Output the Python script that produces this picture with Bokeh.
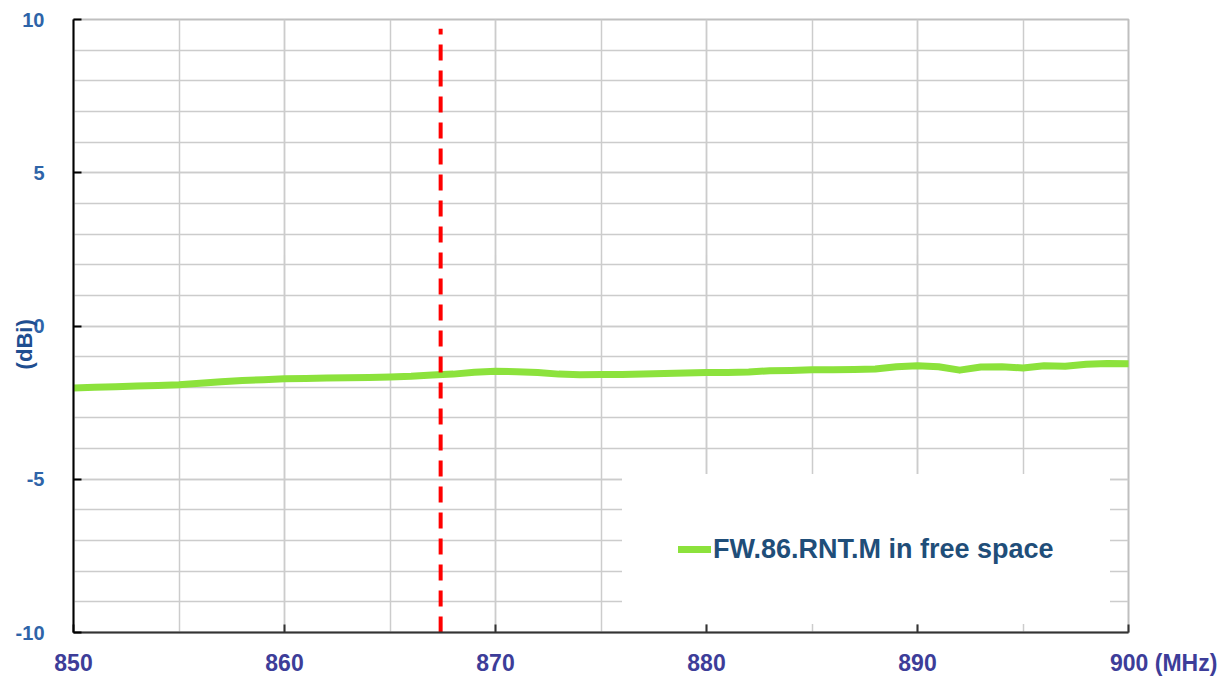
from bokeh.plotting import figure
from bokeh.models import FixedTicker, Legend, LegendItem, Range1d
from bokeh.embed import file_html
from bokeh.resources import INLINE

# ---- data ----
freq_mhz = [850, 851, 852, 853, 854, 855, 856, 857, 858, 859,
            860, 861, 862, 863, 864, 865, 866, 867, 868, 869,
            870, 871, 872, 873, 874, 875, 876, 877, 878, 879,
            880, 881, 882, 883, 884, 885, 886, 887, 888, 889,
            890, 891, 892, 893, 894, 895, 896, 897, 898, 899, 900]
gain_dbi = [-2.02, -2.00, -1.98, -1.96, -1.94, -1.92, -1.87, -1.82, -1.78, -1.75,
            -1.72, -1.71, -1.70, -1.69, -1.68, -1.66, -1.64, -1.60, -1.57, -1.51,
            -1.48, -1.49, -1.52, -1.57, -1.59, -1.58, -1.58, -1.57, -1.55, -1.53,
            -1.52, -1.52, -1.50, -1.46, -1.45, -1.43, -1.43, -1.42, -1.40, -1.33,
            -1.30, -1.33, -1.44, -1.34, -1.33, -1.37, -1.30, -1.31, -1.25, -1.22, -1.23]
series_name = "FW.86.RNT.M in free space"
marker_freq = [867.4, 867.4]
marker_gain = [-10, 9.7]
x_major_ticks = [850, 860, 870, 880, 890, 900]
x_minor_ticks = [850, 855, 860, 865, 870, 875, 880, 885, 890, 895, 900]
y_major_ticks = [-10, -5, 0, 5, 10]
y_minor_ticks = list(range(-10, 11))
x_unit = "(MHz)"
y_unit = "(dBi)"

FONT = "Liberation Sans"
NBSP = "\u00a0"

p = figure(width=1222, height=678, output_backend="svg", toolbar_location=None,
           x_range=Range1d(850, 900), y_range=Range1d(-10, 10),
           min_border_left=73, min_border_right=94, min_border_top=19, min_border_bottom=44)
p.background_fill_color = "white"
p.border_fill_color = "white"
p.outline_line_color = "#bfbfbf"
p.outline_line_width = 2

# axes
p.xaxis.ticker = FixedTicker(ticks=x_major_ticks, minor_ticks=x_minor_ticks)
p.yaxis.ticker = FixedTicker(ticks=y_major_ticks, minor_ticks=y_minor_ticks)
for ax in (p.xaxis, p.yaxis):
    ax.major_tick_in = 8
    ax.major_tick_out = 0
    ax.minor_tick_in = 0
    ax.minor_tick_out = 0
    ax.axis_line_width = 2
    ax.major_tick_line_width = 2
    ax.major_label_text_font = FONT
    ax.major_label_text_font_style = "bold"
p.yaxis.axis_line_color = "black"
p.yaxis.major_tick_line_color = "black"
p.xaxis.axis_line_color = "#333333"
p.xaxis.major_tick_line_color = "#333333"
p.yaxis.major_label_text_font_size = "20px"
p.yaxis.major_label_text_color = "#2e64a8"
p.yaxis.major_label_standoff = 29
p.yaxis.major_label_overrides = {v: str(v) for v in y_major_ticks}
p.xaxis.major_label_text_font_size = "23px"
p.xaxis.major_label_text_color = "#3d3d99"
p.xaxis.major_label_standoff = 17
# unit next to the last x tick label
p.xaxis.major_label_overrides = {x_major_ticks[-1]: NBSP * 11 + str(x_major_ticks[-1]) + NBSP + x_unit}

# y unit as axis label, drawn close to the tick labels
p.yaxis.axis_label = y_unit + NBSP * 6
p.yaxis.axis_label_text_font = FONT
p.yaxis.axis_label_text_font_style = "bold"
p.yaxis.axis_label_text_font_size = "22px"
p.yaxis.axis_label_text_color = "#1f4e90"
p.yaxis.axis_label_standoff = -24

# grid
for g in (p.xgrid, p.ygrid):
    g.grid_line_color = "#cccccc"
    g.grid_line_width = 1.5
    g.minor_grid_line_color = "#cccccc"
    g.minor_grid_line_width = 1.5

# data line
r = p.line(freq_mhz, gain_dbi, line_color="#8ce23c", line_width=7, line_cap="round", line_join="round")

# marker line
p.line(marker_freq, marker_gain, line_color="#ff0000", line_width=4, line_dash="16 10")

# legend
legend = Legend(items=[LegendItem(label=series_name, renderers=[r])],
                location=(549, 8), margin=0, padding=55, spacing=0,
                glyph_width=33, glyph_height=38, label_standoff=2, label_height=38,
                background_fill_color="white", background_fill_alpha=1.0,
                border_line_color="white", border_line_width=1,
                label_text_font=FONT, label_text_font_style="bold",
                label_text_font_size="27px", label_text_color="#1f4e79")
p.add_layout(legend, "center")

open("out.html", "w").write(file_html(p, INLINE))
